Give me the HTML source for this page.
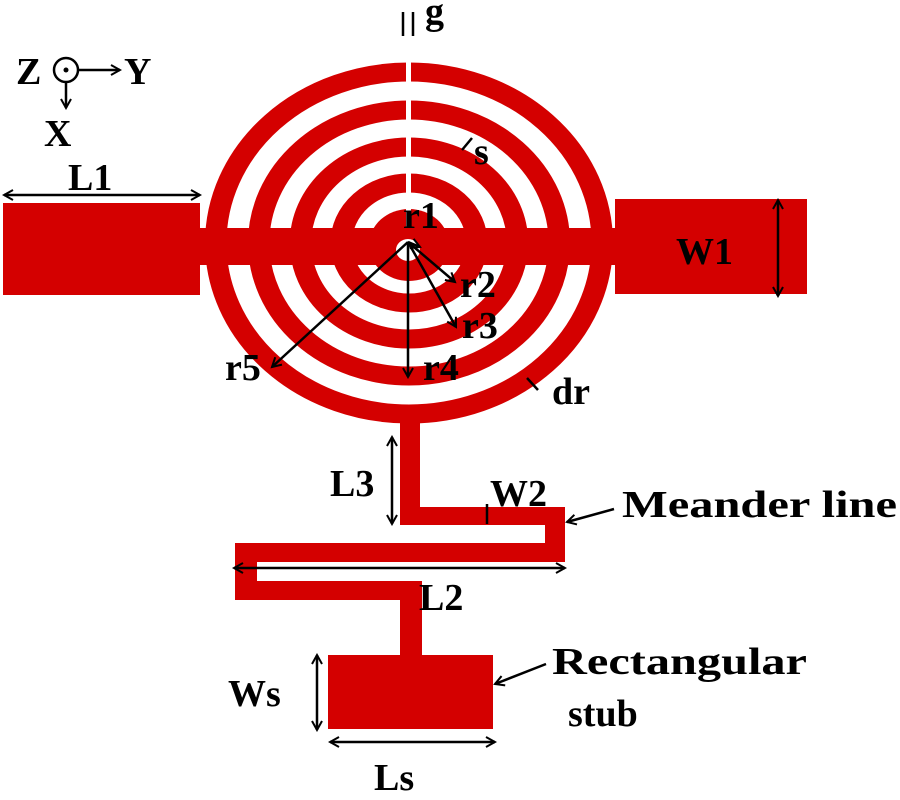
<!DOCTYPE html>
<html><head><meta charset="utf-8"><style>html,body{margin:0;padding:0;background:#fff}svg{display:block}</style></head>
<body>
<svg width="900" height="800" viewBox="0 0 900 800" xmlns="http://www.w3.org/2000/svg" font-family="Liberation Serif, serif" font-weight="bold">
<defs>
<marker id="a" markerWidth="12" markerHeight="12" refX="10" refY="6" orient="auto-start-reverse" markerUnits="userSpaceOnUse"><path d="M1,1 L10,6 L1,11" fill="none" stroke="#000" stroke-width="2"/></marker>
</defs>
<g fill="#d40000">
<g transform="translate(409,243) scale(1.13,1)" fill="none" stroke="#d40000" stroke-width="19">
<circle r="171"/><circle r="133"/><circle r="96"/><circle r="60"/>
</g>
<ellipse cx="409" cy="245" rx="40" ry="36"/>
<rect x="406" y="50" width="5" height="180" fill="#fff"/>
<rect x="195" y="228" width="425" height="37"/>
<rect x="3" y="203" width="197" height="92"/>
<rect x="615" y="199" width="192" height="95"/>
<ellipse cx="408" cy="250" rx="12" ry="11" fill="#fff"/>
<rect x="400" y="410" width="20" height="115"/>
<rect x="400" y="507" width="165" height="18"/>
<rect x="545" y="507" width="20" height="55"/>
<rect x="235" y="543" width="330" height="19"/>
<rect x="235" y="543" width="22" height="57"/>
<rect x="235" y="581" width="187" height="19"/>
<rect x="400" y="581" width="22" height="78"/>
<rect x="328" y="655" width="165" height="74"/>
</g>
<g stroke="#000" stroke-width="2.5" fill="none">
<circle cx="66" cy="70" r="12"/>
<line x1="78" y1="70" x2="120" y2="70" marker-end="url(#a)"/>
<line x1="66" y1="82" x2="66" y2="108" marker-end="url(#a)"/>
<line x1="4" y1="195" x2="200" y2="195" marker-start="url(#a)" marker-end="url(#a)"/>
<line x1="778" y1="200" x2="778" y2="296" marker-start="url(#a)" marker-end="url(#a)"/>
<line x1="403" y1="12" x2="403" y2="36"/><line x1="413" y1="12" x2="413" y2="36"/>
<line x1="462" y1="150" x2="472" y2="138"/>
<line x1="527" y1="378" x2="538" y2="390"/>
<line x1="408" y1="242" x2="420" y2="247" marker-end="url(#a)"/>
<line x1="408" y1="242" x2="455" y2="282" marker-end="url(#a)"/>
<line x1="408" y1="242" x2="456" y2="327" marker-end="url(#a)"/>
<line x1="408" y1="242" x2="408" y2="377" marker-end="url(#a)"/>
<line x1="408" y1="242" x2="272" y2="367" marker-end="url(#a)"/>
<line x1="392" y1="437" x2="392" y2="524" marker-start="url(#a)" marker-end="url(#a)"/>
<line x1="487" y1="504" x2="487" y2="524"/>
<line x1="234" y1="568" x2="565" y2="568" marker-start="url(#a)" marker-end="url(#a)"/>
<line x1="317" y1="655" x2="317" y2="730" marker-start="url(#a)" marker-end="url(#a)"/>
<line x1="330" y1="742" x2="495" y2="742" marker-start="url(#a)" marker-end="url(#a)"/>
<line x1="614" y1="509" x2="567" y2="522" marker-end="url(#a)"/>
<line x1="546" y1="664" x2="495" y2="684" marker-end="url(#a)"/>
</g>
<circle cx="66" cy="70" r="2.5" fill="#000"/>
<g fill="#000" font-size="38">
<text x="16" y="84">Z</text>
<text x="124" y="84">Y</text>
<text x="44" y="146">X</text>
<text x="68" y="190">L1</text>
<text x="676" y="264">W1</text>
<text x="425" y="24">g</text>
<text x="474" y="164">s</text>
<text x="403" y="228">r1</text>
<text x="460" y="297">r2</text>
<text x="462" y="338">r3</text>
<text x="423" y="380">r4</text>
<text x="225" y="380">r5</text>
<text x="552" y="404">dr</text>
<text x="330" y="496">L3</text>
<text x="490" y="506">W2</text>
<text x="419" y="610">L2</text>
<text x="228" y="706">Ws</text>
<text x="374" y="790">Ls</text>
<text x="622" y="517" textLength="275" lengthAdjust="spacingAndGlyphs">Meander line</text>
<text x="552" y="674" textLength="255" lengthAdjust="spacingAndGlyphs">Rectangular</text>
<text x="568" y="726">stub</text>
</g>
</svg>
</body></html>
